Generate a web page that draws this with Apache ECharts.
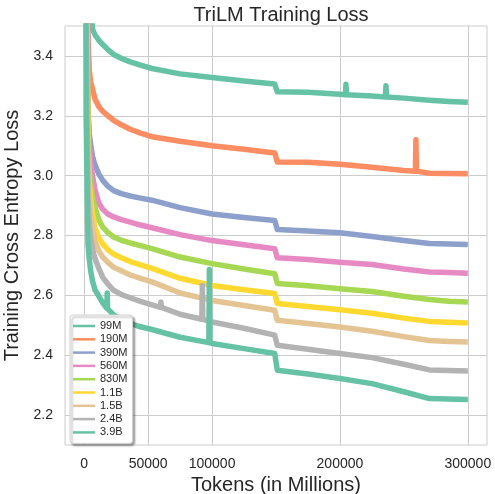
<!DOCTYPE html>
<html>
<head>
<meta charset="utf-8">
<script src="https://cdn.jsdelivr.net/npm/echarts@6/dist/echarts.min.js"></script>
<style>
  html, body { margin: 0; padding: 0; background: #fff; }
  #chart { width: 495px; height: 494px; }
</style>
</head>
<body>
<div id="chart"></div>
<script>
// tokens (in millions) shared by every run
const tokens = [0, 1500, 3000, 4000, 5000, 6500, 8500, 11500, 14500, 18500, 23000, 29000, 36000,
  44000, 53000, 75000, 100000, 125000, 149000, 151000, 175000, 200000, 225000, 250000, 270000,
  285000, 300000];

const loss99M = [10.8, 6.0, 4.4, 4.0, 3.7, 3.49, 3.47, 3.452, 3.438, 3.421, 3.405, 3.392, 3.38,
  3.369, 3.358, 3.34, 3.328, 3.316, 3.306, 3.28, 3.279, 3.272, 3.266, 3.259, 3.252, 3.248, 3.245];
const loss190M = [10.8, 4.5, 3.46, 3.35, 3.315, 3.29, 3.255, 3.23, 3.215, 3.2, 3.185, 3.17, 3.155,
  3.142, 3.13, 3.115, 3.1, 3.088, 3.076, 3.046, 3.045, 3.038, 3.028, 3.017, 3.008, 3.007, 3.006];
const loss390M = [10.8, 4.2, 3.2, 3.14, 3.105, 3.065, 3.035, 3.005, 2.984, 2.965, 2.95, 2.94, 2.932,
  2.925, 2.918, 2.893, 2.872, 2.86, 2.85, 2.82, 2.815, 2.809, 2.797, 2.783, 2.773, 2.772, 2.77];
const loss560M = [10.8, 4.0, 3.25, 3.1, 3.05, 3.0, 2.952, 2.908, 2.888, 2.872, 2.862, 2.853, 2.845,
  2.835, 2.826, 2.803, 2.783, 2.769, 2.756, 2.726, 2.72, 2.711, 2.703, 2.688, 2.678, 2.676, 2.674];
const loss830M = [10.8, 3.9, 3.15, 3.02, 2.972, 2.93, 2.893, 2.852, 2.828, 2.81, 2.795, 2.784, 2.775,
  2.766, 2.756, 2.728, 2.706, 2.688, 2.672, 2.64, 2.632, 2.622, 2.613, 2.597, 2.586, 2.58, 2.578];
const loss1_1B = [10.8, 3.8, 3.1, 2.98, 2.925, 2.875, 2.825, 2.792, 2.772, 2.753, 2.738, 2.726, 2.713,
  2.702, 2.69, 2.657, 2.633, 2.619, 2.606, 2.573, 2.563, 2.552, 2.54, 2.524, 2.513, 2.51, 2.508];
const loss1_5B = [10.8, 3.7, 3.03, 2.93, 2.88, 2.83, 2.78, 2.748, 2.728, 2.71, 2.694, 2.682, 2.668,
  2.657, 2.645, 2.608, 2.583, 2.566, 2.55, 2.517, 2.506, 2.494, 2.48, 2.462, 2.449, 2.446, 2.444];
const loss2_4B = [10.8, 3.5, 2.92, 2.84, 2.795, 2.755, 2.722, 2.69, 2.66, 2.638, 2.617, 2.603, 2.592,
  2.58, 2.568, 2.537, 2.511, 2.49, 2.467, 2.433, 2.42, 2.406, 2.392, 2.37, 2.351, 2.349, 2.347];
const loss3_9B = [10.8, 3.2, 2.77, 2.72, 2.685, 2.648, 2.618, 2.597, 2.575, 2.555, 2.535, 2.52, 2.506,
  2.495, 2.486, 2.46, 2.439, 2.422, 2.406, 2.35, 2.337, 2.322, 2.305, 2.278, 2.255, 2.254, 2.252];

// short loss spikes, [tokens, loss]
const spikes99M = [[204300, 3.27], [204700, 3.305], [205100, 3.27], [235600, 3.263], [236000, 3.3], [236400, 3.263]];
const spikes190M = [[259000, 3.015], [259400, 3.12], [259800, 3.015]];
const spikes2_4B = [[59600, 2.56], [60000, 2.578], [60400, 2.56], [92000, 2.52], [92400, 2.633], [92800, 2.52]];
const spikes3_9B = [[17700, 2.557], [18000, 2.608], [18300, 2.556], [97500, 2.442], [97900, 2.686], [98300, 2.442]];

const modelNames = ['99M', '190M', '390M', '560M', '830M', '1.1B', '1.5B', '2.4B', '3.9B'];
const modelLosses = [loss99M, loss190M, loss390M, loss560M, loss830M, loss1_1B, loss1_5B, loss2_4B, loss3_9B];
const modelSpikes = [spikes99M, spikes190M, [], [], [], [], [], spikes2_4B, spikes3_9B];
const colors = ['#66c2a5', '#fc8d62', '#8da0cb', '#e78ac3', '#a6d854', '#ffd92f', '#e5c494', '#b3b3b3', '#66c2a5'];

const xTicks = [0, 50000, 100000, 200000, 300000];
const yTicks = [2.2, 2.4, 2.6, 2.8, 3.0, 3.2, 3.4];

const font = 'Liberation Sans, Arial, sans-serif';
const ink = '#262626';

const chart = echarts.init(document.getElementById('chart'));

const series = modelNames.map((name, i) => ({
  name,
  type: 'line',
  showSymbol: false,
  symbol: 'none',
  clip: true,
  data: tokens
    .map((t, j) => [t, modelLosses[i][j]])
    .concat(modelSpikes[i])
    .sort((a, b) => a[0] - b[0]),
  lineStyle: { color: colors[i], width: 5.5, join: 'round' },
  itemStyle: { color: colors[i] },
}));

const option = {
  animation: false,
  backgroundColor: '#fff',
  title: {
    text: 'TriLM Training Loss',
    left: 276,
    textAlign: 'center',
    top: 0,
    textStyle: { fontFamily: font, fontSize: 20, fontWeight: 'normal', color: ink },
  },
  legend: {
    orient: 'vertical',
    left: 70,
    top: 315,
    data: modelNames,
    icon: 'rect',
    itemWidth: 22,
    itemHeight: 2.5,
    itemGap: 1.3,
    padding: [5, 5, 5, 3],
    backgroundColor: '#fff',
    borderColor: '#d0d0d0',
    borderWidth: 1,
    borderRadius: 3,
    shadowColor: 'rgba(0,0,0,0.35)',
    shadowBlur: 2,
    shadowOffsetX: 2,
    shadowOffsetY: 2,
    textStyle: { fontFamily: font, fontSize: 11, color: ink, lineHeight: 12 },
  },
  grid: {
    show: true,
    left: 65,
    right: 8,
    top: 26,
    bottom: 49,
    containLabel: false,
    outerBoundsMode: 'none',
    borderColor: '#cccccc',
    borderWidth: 1,
  },
  xAxis: {
    type: 'value',
    min: -15000,
    max: 315000,
    name: 'Tokens (in Millions)',
    nameLocation: 'middle',
    nameGap: 26,
    nameTextStyle: { fontFamily: font, fontSize: 20, color: ink },
    axisLine: { show: false },
    axisTick: { show: false, customValues: xTicks },
    axisLabel: {
      customValues: xTicks,
      margin: 12,
      fontFamily: font,
      fontSize: 14,
      color: ink,
      formatter: v => String(v),
    },
    splitLine: { show: true, lineStyle: { color: '#cccccc', width: 1 } },
  },
  yAxis: {
    type: 'value',
    min: 2.1,
    max: 3.5,
    name: 'Training Cross Entropy Loss',
    nameLocation: 'middle',
    nameGap: 36,
    nameTextStyle: { fontFamily: font, fontSize: 20, color: ink },
    axisLine: { show: false },
    axisTick: { show: false, customValues: yTicks },
    axisLabel: {
      customValues: yTicks,
      margin: 12,
      fontFamily: font,
      fontSize: 14,
      color: ink,
      formatter: v => v.toFixed(1),
    },
    splitLine: { show: true, lineStyle: { color: '#cccccc', width: 1 } },
  },
  series,
};

chart.setOption(option);
</script>
</body>
</html>
